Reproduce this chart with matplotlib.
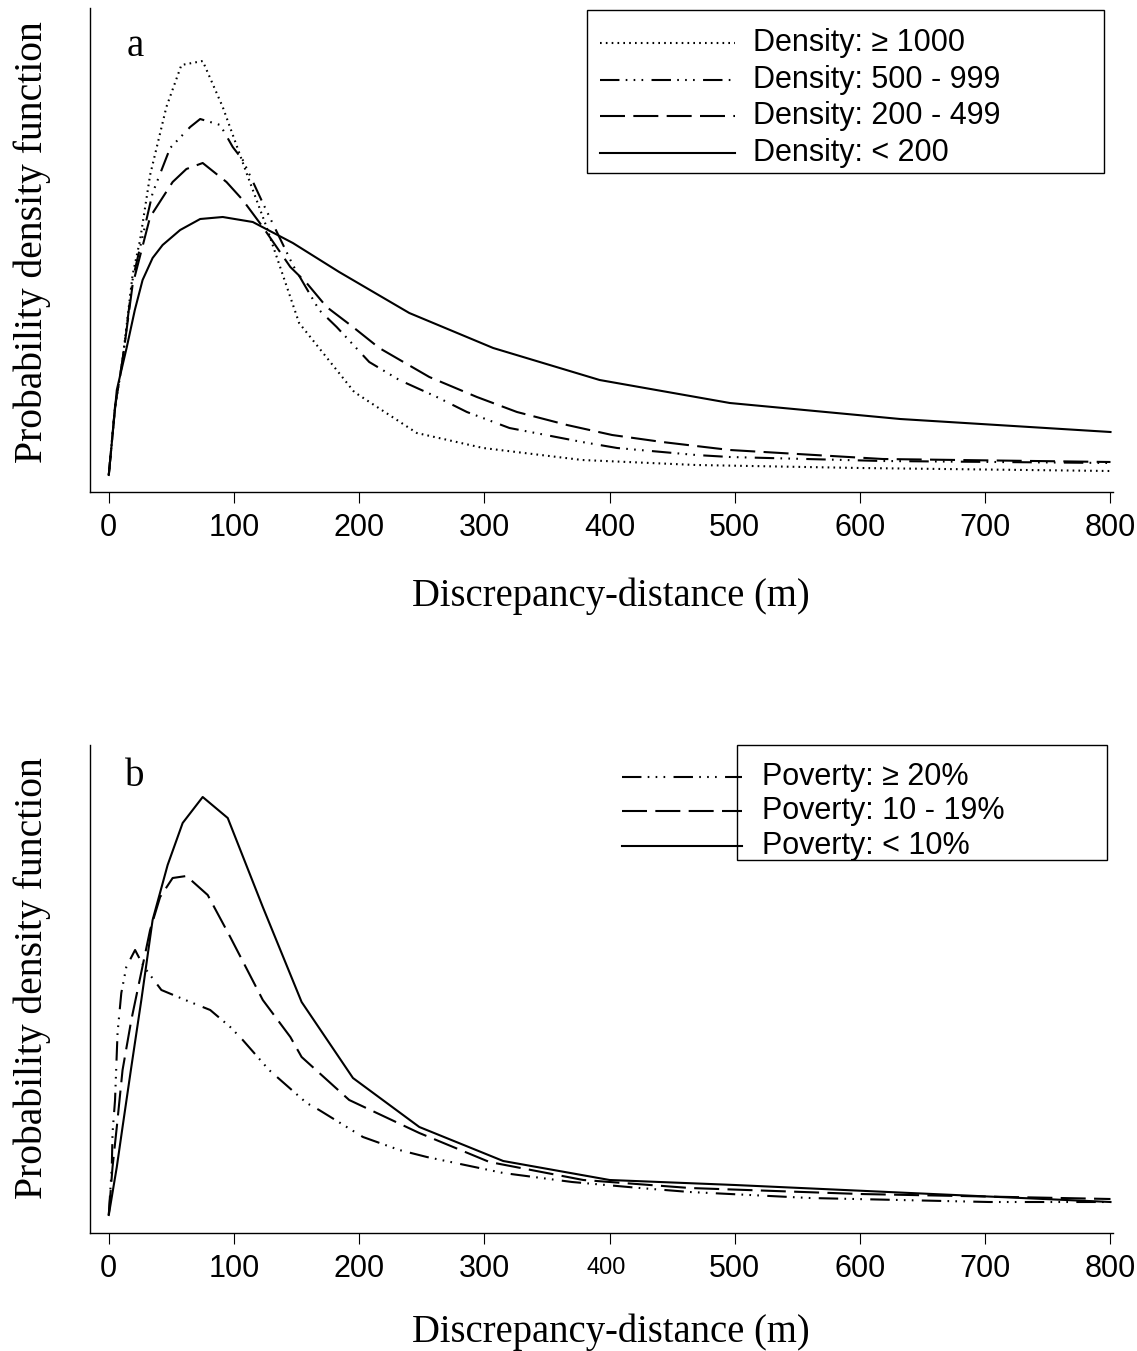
import matplotlib
matplotlib.use("Agg")
import matplotlib.pyplot as plt
import matplotlib.transforms as mtransforms
from matplotlib.lines import Line2D
from matplotlib.patches import Rectangle

# ---------------------------------------------------------------
# data (arbitrary density units)
# ---------------------------------------------------------------
# panel a : population density classes
dens_1000_x = [0, 5, 11, 19, 25, 33, 46, 58, 75, 91, 110, 126, 152, 196, 246, 299, 378, 469, 600, 800]
dens_1000_y = [0, 68, 115, 200, 235, 300, 368, 410, 414, 368, 302, 248, 152, 83, 42, 27, 15, 10, 7, 4]

dens_500_x = [0, 5, 11, 19, 35, 49, 65, 73, 89, 99, 107, 123, 147, 168, 182, 208, 232, 262, 286, 320, 378, 406, 469, 496, 618, 800]
dens_500_y = [0, 68, 115, 195, 282, 327, 348, 356, 350, 328, 315, 272, 210, 165, 148, 113, 95, 78, 63, 47, 33, 27, 20, 18, 14, 12]

dens_200_x = [0, 5, 11, 19, 33, 51, 62, 75, 94, 107, 123, 145, 158, 174, 195, 216, 256, 294, 326, 366, 402, 442, 496, 618, 800]
dens_200_y = [0, 68, 115, 190, 258, 293, 306, 312, 293, 275, 248, 208, 192, 168, 148, 127, 98, 78, 63, 50, 40, 33, 25, 16, 13]

dens_low_x = [0, 6.4, 8.8, 14.4, 20.8, 27, 35, 43, 57, 73, 91, 115, 147, 184, 240, 307, 392, 496, 632, 800]
dens_low_y = [0, 85, 98, 128, 165, 195, 217, 230, 245, 256, 258, 253, 232, 203, 162, 127, 95, 72, 56, 43]

# panel b : poverty classes
pov_20_x = [0, 2.4, 3, 5, 6.4, 7, 10, 14, 21, 26, 30, 42, 65, 81, 97, 107, 128, 158, 168, 203, 232, 254, 315, 370, 424, 464, 560, 703, 800]
pov_20_y = [0, 48, 82, 115, 162, 182, 222, 248, 265, 253, 245, 225, 213, 205, 188, 175, 145, 112, 105, 78, 65, 58, 42, 33, 27, 23, 17, 13, 13]

pov_10_x = [0, 3, 6.4, 11, 18, 33, 41, 51, 62, 79, 97, 123, 145, 154, 192, 248, 304, 379, 464, 600, 800]
pov_10_y = [0, 48, 88, 145, 195, 285, 318, 337, 339, 320, 278, 215, 178, 158, 115, 82, 53, 35, 27, 21, 16]

pov_low_x = [0, 6.4, 11, 18, 26, 35, 47, 59, 75, 95, 123, 154, 195, 248, 315, 400, 500, 640, 800]
pov_low_y = [0, 48, 88, 148, 215, 295, 350, 392, 418, 397, 308, 213, 137, 88, 54, 35, 30, 22, 13]

labels_a = ["Density: \u2265 1000", "Density: 500 - 999", "Density: 200 - 499", "Density: < 200"]
labels_b = ["Poverty: \u2265 20%", "Poverty: 10 - 19%", "Poverty: < 10%"]
xticks = [0, 100, 200, 300, 400, 500, 600, 700, 800]

# ---------------------------------------------------------------
# styles
# ---------------------------------------------------------------
plt.rcParams["lines.scale_dashes"] = False
LW = 1.5
DOT = (0, (1.2, 3.0))
DASHDOT = (0, (14, 4.5, 1.2, 4.5, 1.2, 4.5, 1.2, 6))
LONGDASH = (0, (18, 6))
SOLID = "-"

SANS = "Liberation Sans"
SERIF = "Liberation Serif"

W, H = 1137, 1351
fig = plt.figure(figsize=(W / 100, H / 100), dpi=100)


def px_axes(left, top, right, bottom):
    return fig.add_axes([left / W, 1 - bottom / H, (right - left) / W, (bottom - top) / H])


def fx(px):
    return px / W


def fy(py):
    return 1 - py / H


def style_axes(ax, ylim, tag, tag_py, xlab_y, ylab_y):
    ax.set_xlim(-15, 802)
    ax.set_ylim(*ylim)
    for s in ["top", "right"]:
        ax.spines[s].set_visible(False)
    ax.spines["left"].set_linewidth(1.0)
    ax.spines["bottom"].set_linewidth(1.0)
    ax.set_yticks([])
    ax.set_xticks(xticks)
    ax.set_xticklabels([str(t) for t in xticks], fontfamily=SANS, fontsize=22)
    ax.tick_params(axis="x", direction="out", length=8, width=0.8, pad=7)
    ax.set_xlabel("Discrepancy-distance (m)", fontfamily=SERIF, fontsize=27.8)
    ax.set_ylabel("Probability density function", fontfamily=SERIF, fontsize=28.5)
    ax.xaxis.set_label_coords(0.509, xlab_y)
    ax.yaxis.set_label_coords(-0.038, ylab_y)
    fig.text(fx(135), fy(tag_py), tag, fontfamily=SERIF, fontsize=28, ha="center", va="center")


def legend_box(box, line_x0, line_x1, text_x, rows, labels, styles):
    l, t, r, b = box
    fig.add_artist(Rectangle((fx(l), fy(b)), fx(r) - fx(l), fy(t) - fy(b),
                             transform=fig.transFigure, fill=False, lw=1.0, ec="black"))
    for py, lab, ls in zip(rows, labels, styles):
        fig.add_artist(Line2D([fx(line_x0), fx(line_x1)], [fy(py), fy(py)],
                              transform=fig.transFigure, color="black", lw=LW, ls=ls))
        fig.text(fx(text_x), fy(py), lab, fontfamily=SANS, fontsize=22, ha="left", va="center")


# ---------------------------------------------------------------
# panel a
# ---------------------------------------------------------------
ax1 = px_axes(90, 8, 1113, 492)
ax1.plot(dens_1000_x, dens_1000_y, color="black", lw=LW, ls=DOT)
ax1.plot(dens_500_x, dens_500_y, color="black", lw=LW, ls=DASHDOT)
ax1.plot(dens_200_x, dens_200_y, color="black", lw=LW, ls=LONGDASH)
ax1.plot(dens_low_x, dens_low_y, color="black", lw=LW, ls=SOLID)
style_axes(ax1, (-17, 467), "a", 46, -0.177, 0.5165)
legend_box((587, 10, 1104, 173), 600, 735, 753, [43, 80, 116, 153], labels_a,
           [DOT, DASHDOT, LONGDASH, SOLID])

# ---------------------------------------------------------------
# panel b
# ---------------------------------------------------------------
ax2 = px_axes(90, 745, 1113, 1233)
ax2.plot(pov_20_x, pov_20_y, color="black", lw=LW, ls=DASHDOT)
ax2.plot(pov_10_x, pov_10_y, color="black", lw=LW, ls=LONGDASH)
ax2.plot(pov_low_x, pov_low_y, color="black", lw=LW, ls=SOLID)
style_axes(ax2, (-18, 470), "b", 776, -0.165, 0.5225)
# the "400" label is printed smaller in the original, on the same centre line
lab400 = ax2.get_xticklabels()[4]
lab400.set_fontsize(17)
lab400.set_transform(lab400.get_transform() +
                     mtransforms.ScaledTranslation(-3 / 100, -3 / 100, fig.dpi_scale_trans))
legend_box((737, 745, 1107, 860), 622, 742, 762, [777, 811, 846], labels_b,
           [DASHDOT, LONGDASH, SOLID])

fig.savefig("out.png", dpi=100)
